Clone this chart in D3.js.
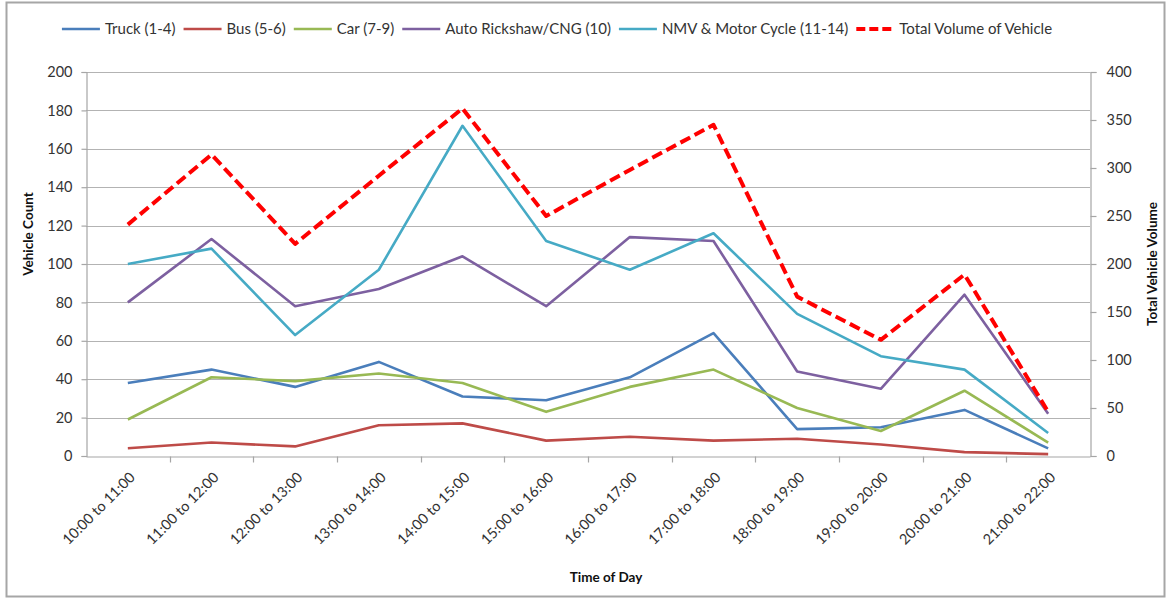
<!DOCTYPE html>
<html>
<head>
<meta charset="utf-8">
<script src="https://cdn.jsdelivr.net/npm/d3@7/dist/d3.min.js"></script>
<style>
  html, body { margin: 0; padding: 0; background: #fff; }
  svg { display: block; font-family: "Lato", "Liberation Sans", sans-serif; }
</style>
</head>
<body>
<svg id="chart" width="1169" height="598"></svg>
<script>
// Hourly vehicle counts by class, 10:00 to 22:00
const timeSlots = ["10:00 to 11:00", "11:00 to 12:00", "12:00 to 13:00", "13:00 to 14:00",
  "14:00 to 15:00", "15:00 to 16:00", "16:00 to 17:00", "17:00 to 18:00",
  "18:00 to 19:00", "19:00 to 20:00", "20:00 to 21:00", "21:00 to 22:00"];
const truck = [38, 45, 36, 49, 31, 29, 41, 64, 14, 15, 24, 4];
const bus = [4, 7, 5, 16, 17, 8, 10, 8, 9, 6, 2, 1];
const car = [19, 41, 39, 43, 38, 23, 36, 45, 25, 13, 34, 7];
const autoRickshaw = [80, 113, 78, 87, 104, 78, 114, 112, 44, 35, 84, 22];
const nmvMotorCycle = [100, 108, 63, 97, 172, 112, 97, 116, 74, 52, 45, 12];
const totalVolume = [241, 314, 221, 292, 362, 250, 298, 345, 166, 121, 189, 46];
const leftTicks = [0, 20, 40, 60, 80, 100, 120, 140, 160, 180, 200];
const rightTicks = [0, 50, 100, 150, 200, 250, 300, 350, 400];

const series = [
  { name: "Truck (1-4)", values: truck, color: "#4a7ebb", axis: "left" },
  { name: "Bus (5-6)", values: bus, color: "#be4b48", axis: "left" },
  { name: "Car (7-9)", values: car, color: "#98b954", axis: "left" },
  { name: "Auto Rickshaw/CNG (10)", values: autoRickshaw, color: "#7d60a0", axis: "left" },
  { name: "NMV & Motor Cycle (11-14)", values: nmvMotorCycle, color: "#46aac5", axis: "left" },
  { name: "Total Volume of Vehicle", values: totalVolume, color: "#ff0000", axis: "right", dashed: true }
];

const svg = d3.select("#chart");
const plot = { left: 86, right: 1090, top: 72, bottom: 456 };

// Chart frame
svg.append("rect")
  .attr("x", 6.5).attr("y", 2.5).attr("width", 1158).attr("height", 594)
  .attr("fill", "#fff").attr("stroke", "#a6a6a6").attr("stroke-width", 2);

const x = d3.scaleBand().domain(timeSlots).range([plot.left, plot.right]);
const yLeft = d3.scaleLinear().domain([0, 200]).range([plot.bottom, plot.top]);
const yRight = d3.scaleLinear().domain([0, 400]).range([plot.bottom, plot.top]);

// Horizontal gridlines
svg.append("g")
  .selectAll("line")
  .data(leftTicks.filter(t => t > 0))
  .join("line")
  .attr("x1", plot.left).attr("x2", plot.right)
  .attr("y1", d => Math.round(yLeft(d)) + 0.5).attr("y2", d => Math.round(yLeft(d)) + 0.5)
  .attr("stroke", "#b3b3b3").attr("stroke-width", 1.2);

// Left axis
const gl = svg.append("g").attr("transform", `translate(${plot.left + 0.5},0)`)
  .call(d3.axisLeft(yLeft).tickValues(leftTicks).tickSize(5).tickPadding(9));
// Right axis
const gr = svg.append("g").attr("transform", `translate(${plot.right + 0.5},0)`)
  .call(d3.axisRight(yRight).tickValues(rightTicks).tickSize(6).tickPadding(10));
// Bottom axis: tick marks on category boundaries
const gb = svg.append("g").attr("transform", `translate(0,${plot.bottom + 0.5})`)
  .call(d3.axisBottom(x).tickSize(0).tickFormat(""));
gb.append("g").selectAll("line")
  .data(timeSlots.slice(1))
  .join("line")
  .attr("x1", d => Math.round(x(d)) + 0.5).attr("x2", d => Math.round(x(d)) + 0.5)
  .attr("y1", 0).attr("y2", 6);

[gl, gr, gb].forEach(g => {
  g.select(".domain").attr("stroke", "#a6a6a6").attr("stroke-width", 1.2);
  g.selectAll("line").attr("stroke", "#a6a6a6").attr("stroke-width", 1.2);
  g.selectAll("text").attr("fill", "#333").attr("font-size", 14.5)
    .attr("font-family", "Lato, 'Liberation Sans', sans-serif");
});

// Rotated category labels
svg.append("g").selectAll("text")
  .data(timeSlots)
  .join("text")
  .attr("transform", d => `translate(${x(d) + x.bandwidth() / 2 + 1},${plot.bottom + 15}) rotate(-45)`)
  .attr("text-anchor", "end")
  .attr("dy", "0.7em")
  .attr("font-size", 14.5)
  .attr("fill", "#333")
  .text(d => d);

// Series lines
const cx = d => x(d) + x.bandwidth() / 2;
series.forEach(s => {
  const yScale = s.axis === "left" ? yLeft : yRight;
  const line = d3.line()
    .x((v, i) => cx(timeSlots[i]))
    .y(v => yScale(v));
  svg.append("path")
    .datum(s.values)
    .attr("d", line)
    .attr("fill", "none")
    .attr("stroke", s.color)
    .attr("stroke-width", s.dashed ? 4 : 2.6)
    .attr("stroke-dasharray", s.dashed ? "11 5" : null)
    .attr("stroke-linejoin", "round");
});

// Axis titles
svg.append("text")
  .attr("transform", "translate(33,234) rotate(-90)")
  .attr("text-anchor", "middle")
  .attr("font-size", 13.5).attr("font-weight", "bold").attr("fill", "#111")
  .text("Vehicle Count");
svg.append("text")
  .attr("transform", `translate(1157,${(plot.top + plot.bottom) / 2}) rotate(-90)`)
  .attr("text-anchor", "middle")
  .attr("font-size", 13.5).attr("font-weight", "bold").attr("fill", "#111")
  .text("Total Vehicle Volume");
svg.append("text")
  .attr("x", 606).attr("y", 582)
  .attr("text-anchor", "middle")
  .attr("font-size", 13.5).attr("font-weight", "bold").attr("fill", "#111")
  .text("Time of Day");

// Legend laid out left to right, then centred
const legend = svg.append("g");
let cursor = 0;
const sampleLen = 38;
const itemGap = 8;
series.forEach(s => {
  const item = legend.append("g").attr("transform", `translate(${cursor},0)`);
  item.append("line")
    .attr("x1", 0).attr("x2", sampleLen).attr("y1", 0).attr("y2", 0)
    .attr("stroke", s.color)
    .attr("stroke-width", s.dashed ? 4 : 2.6)
    .attr("stroke-dasharray", s.dashed ? "9 4" : null);
  const t = item.append("text")
    .attr("x", sampleLen + 5).attr("y", 0).attr("dy", "0.35em")
    .attr("font-size", 15).attr("fill", "#333")
    .text(s.name);
  cursor += sampleLen + 5 + t.node().getComputedTextLength() + itemGap;
});
const legendWidth = cursor - itemGap;
legend.attr("transform", `translate(${(62 + 1052) / 2 - legendWidth / 2},29)`);
</script>
</body>
</html>
